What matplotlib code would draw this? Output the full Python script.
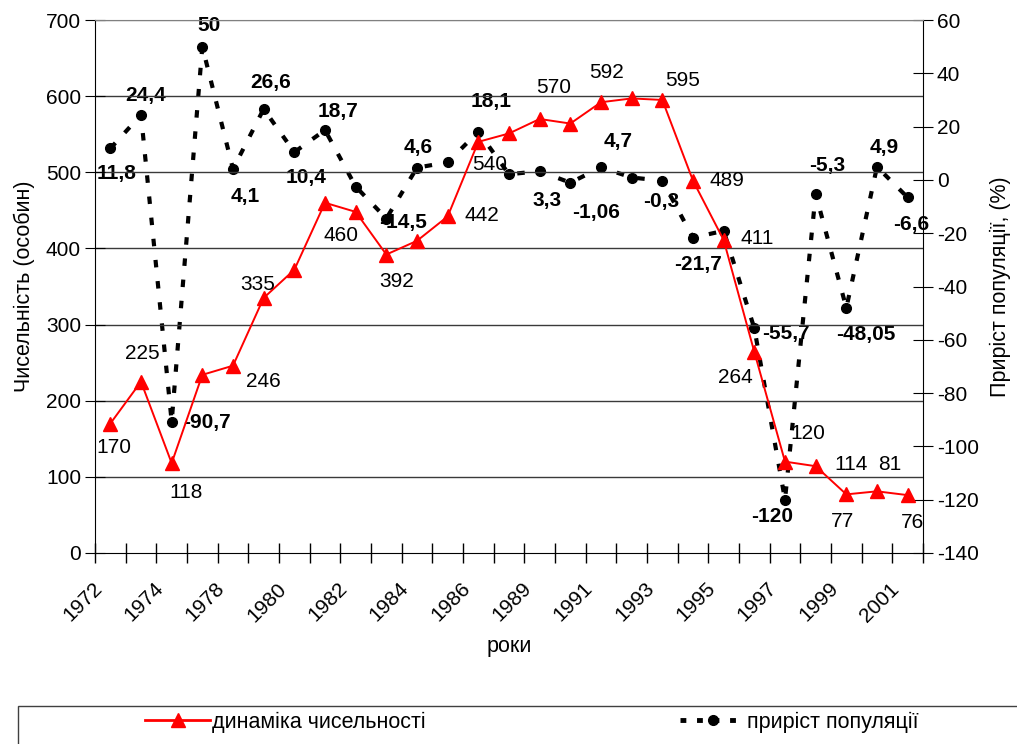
import matplotlib
matplotlib.use('Agg')
import matplotlib.pyplot as plt
import matplotlib.transforms as mtransforms
from matplotlib.lines import Line2D
from matplotlib.patches import Rectangle

plt.rcParams['font.family'] = ['Liberation Sans', 'DejaVu Sans']
plt.rcParams['axes.unicode_minus'] = False

# tick labels shown on every other category
tick_labels = ['1972', '1974', '1978', '1980', '1982', '1984', '1986',
               '1989', '1991', '1993', '1995', '1997', '1999', '2001']

# population size (left axis)
numbers = [170, 225, 118, 234, 246, 335, 372, 460, 448, 392, 410, 442, 540, 551,
           570, 564, 592, 597, 595, 489, 411, 264, 120, 114, 77, 81, 76]

# population growth, % (right axis)
growth = [11.8, 24.4, -90.7, 50, 4.1, 26.6, 10.4, 18.7, -2.5, -14.5, 4.6, 6.6, 18.1, 2.1,
          3.3, -1.06, 4.7, 0.9, -0.3, -21.7, -19.1, -55.7, -120, -5.3, -48.05, 4.9, -6.6]

# which points carry a value label, and the label text
number_labels = {0: '170', 1: '225', 2: '118', 4: '246', 5: '335', 7: '460', 9: '392',
                 11: '442', 12: '540', 14: '570', 16: '592', 18: '595', 19: '489',
                 20: '411', 21: '264', 22: '120', 23: '114', 24: '77', 25: '81', 26: '76'}
growth_labels = {0: '11,8', 1: '24,4', 2: '-90,7', 3: '50', 4: '4,1', 5: '26,6', 6: '10,4',
                 7: '18,7', 9: '-14,5', 10: '4,6', 12: '18,1', 14: '3,3', 15: '-1,06',
                 16: '4,7', 18: '-0,3', 19: '-21,7', 21: '-55,7', 22: '-120', 23: '-5,3',
                 24: '-48,05', 25: '4,9', 26: '-6,6'}

# label offsets in pixels (dx, dy down)
number_off = {0: (4, 24), 1: (1, -28), 2: (14, 29), 4: (30, 16), 5: (-6, -13), 7: (16, 33),
              9: (10, 27), 11: (34, -1), 12: (11, 23), 14: (14, -31), 16: (6, -30),
              18: (20, -19), 19: (34, 0), 20: (34, -2), 21: (-19, 26), 22: (23, -28),
              23: (35, -2), 24: (-4, 27), 25: (13, -27), 26: (5, 27)}
growth_off = {0: (6, 25), 1: (5, -19), 2: (35, 1), 3: (7, -21), 4: (12, 28), 5: (7, -27),
              6: (12, 25), 7: (13, -19), 9: (17, 4), 10: (1, -20), 12: (13, -30),
              14: (7, 29), 15: (26, 30), 16: (17, -26), 18: (-1, 21), 19: (5, 27),
              21: (32, 5), 22: (-13, 17), 23: (12, -29), 24: (19, 27), 25: (7, -19),
              26: (4, 27)}

x = list(range(len(numbers)))
fs = 15
dash = (0, (1.8, 3.3))

fig = plt.figure(figsize=(10.17, 7.44), dpi=100)
ax = fig.add_axes([95 / 1017, 1 - 553 / 744, 828 / 1017, 533 / 744])
ax2 = ax.twinx()

# population size line
ax.plot(x, numbers, color='#ff0000', lw=1.4, marker='^', ms=9.5, zorder=4)
ax.set_zorder(2)
ax.patch.set_visible(False)
ax2.set_zorder(1)

# growth line
ax2.plot(x, growth, color='black', lw=3, linestyle=dash,
         marker='o', ms=7, zorder=3)

ax.set_xlim(-0.5, len(numbers) - 0.5)
ax.set_ylim(0, 700)
ax2.set_ylim(-140, 60)
ax.set_yticks(range(0, 701, 100))
ax2.set_yticks(range(-140, 61, 20))

for v in range(100, 701, 100):
    ax.axhline(v, color='#3a3a3a' if v < 700 else '#808080', lw=1, zorder=0)

# category boundary ticks, labels on every other category
ax.set_xticks([i - 0.5 for i in range(len(numbers) + 1)])
ax.set_xticklabels([])
ax.tick_params(axis='x', direction='inout', length=14, width=1)
shift = mtransforms.ScaledTranslation(-18 / 100, -26 / 100, fig.dpi_scale_trans)
for pos, lab in zip(x[::2], tick_labels):
    ax.text(pos, 0, lab, transform=ax.get_xaxis_transform() + shift,
            rotation=45, ha='right', va='top', rotation_mode='anchor', fontsize=fs)

ax.tick_params(axis='y', direction='inout', length=14, labelsize=fs, pad=3)
ax2.tick_params(axis='y', direction='inout', length=14, labelsize=fs, pad=3)

ax.spines['top'].set_color('#808080')
ax2.spines['top'].set_visible(False)
ax.spines['right'].set_visible(False)
ax2.spines['left'].set_visible(False)
ax2.spines['bottom'].set_visible(False)

ax.set_ylabel('Чисельність (особин)', fontsize=15.5, labelpad=8)
ax2.set_ylabel('Приріст популяції, (%)', fontsize=15.5, labelpad=8)
ax.set_xlabel('роки', fontsize=15.5)
ax.xaxis.set_label_coords(0.5, -0.155)

for i, txt in number_labels.items():
    dx, dy = number_off[i]
    ax.annotate(txt, (x[i], numbers[i]), xytext=(dx, -dy), textcoords='offset pixels',
                ha='center', va='center', fontsize=fs, zorder=6)
for i, txt in growth_labels.items():
    dx, dy = growth_off[i]
    ax2.annotate(txt, (x[i], growth[i]), xytext=(dx, -dy), textcoords='offset pixels',
                 ha='center', va='center', fontsize=fs, fontweight='bold', zorder=6)

# legend box running off the bottom and right edge
fig.patches.append(Rectangle((18 / 1017, -0.2), 1.2, 0.2 + 1 - 706 / 744,
                             transform=fig.transFigure, fill=False,
                             edgecolor='#404040', lw=1))
h1 = Line2D([], [], color='#ff0000', lw=2, marker='^', ms=9.5)
h2 = Line2D([], [], color='black', lw=3.5, linestyle=(0, (1.2, 2.2)), marker='o', ms=7)
fig.legend([h1], ['динаміка чисельності'], loc='center left', frameon=False,
           bbox_to_anchor=(126 / 1017, 1 - 722 / 744), fontsize=15.5, handlelength=3.0,
           handletextpad=0.1)
fig.legend([h2], ['приріст популяції'], loc='center left', frameon=False,
           bbox_to_anchor=(661 / 1017, 1 - 722 / 744), fontsize=15.5, handlelength=3.0,
           handletextpad=0.1)

fig.savefig('out.png', dpi=100)
